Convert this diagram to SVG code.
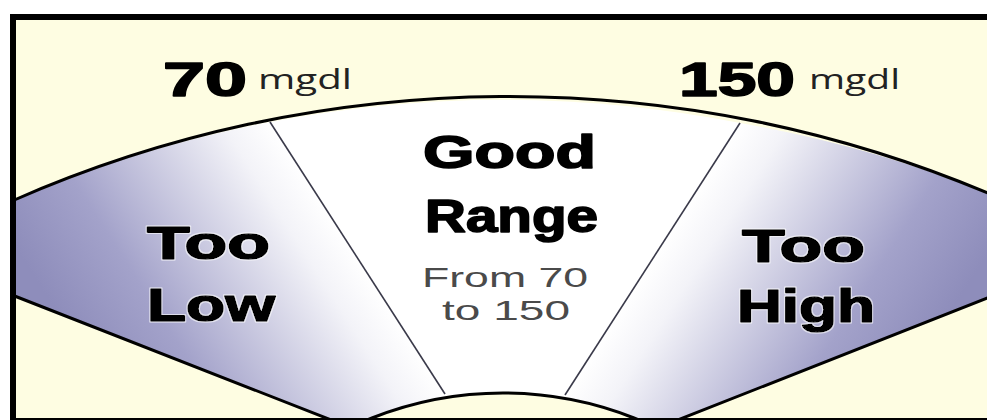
<svg xmlns="http://www.w3.org/2000/svg" width="987" height="420" viewBox="0 0 987 420">
  <style>
    .heavy { font-family: "Liberation Sans", Arial, sans-serif; font-weight: bold; fill: #000; stroke: #000; stroke-width: 1.6; stroke-linejoin: round; }
    .unit { font-family: "Open Sans", "Liberation Sans", sans-serif; font-size: 28px; fill: #222; }
    .sub { font-family: "Liberation Sans", Arial, sans-serif; font-size: 28px; fill: #4a4a4a; }
    .edge { fill: none; stroke: #000; stroke-width: 3; stroke-linecap: butt; }
    .divider { fill: none; stroke: #3a3a4a; stroke-width: 1.6; }
  </style>
  <defs>
    <linearGradient id="gLeft" gradientUnits="userSpaceOnUse" x1="360" y1="260" x2="122" y2="413">
      <stop offset="0" stop-color="#ffffff"/>
      <stop offset="0.15" stop-color="#f3f3f8"/>
      <stop offset="0.7" stop-color="#a3a2ca"/>
      <stop offset="1" stop-color="#8e8dbb"/>
    </linearGradient>
    <linearGradient id="gRight" gradientUnits="userSpaceOnUse" x1="650" y1="263" x2="885" y2="414">
      <stop offset="0" stop-color="#ffffff"/>
      <stop offset="0.15" stop-color="#f3f3f8"/>
      <stop offset="0.7" stop-color="#a3a2ca"/>
      <stop offset="1" stop-color="#8e8dbb"/>
    </linearGradient>
    <filter id="halo" x="-10%" y="-20%" width="120%" height="140%">
      <feMorphology in="SourceAlpha" operator="dilate" radius="1" result="d"/>
      <feFlood flood-color="#ffffff" flood-opacity="0.6"/>
      <feComposite in2="d" operator="in" result="w"/>
      <feMerge><feMergeNode in="w"/><feMergeNode in="SourceGraphic"/></feMerge>
    </filter>
  </defs>

  <!-- background -->
  <rect x="0" y="0" width="987" height="420" fill="#ffffff"/>
  <rect x="10" y="14" width="977" height="406" fill="#fefde2"/>

  <!-- Too Low wedge -->
  <g id="too-low">
    <path d="M 12 201 A 1234 1234 0 0 1 270 122 L 505 488 L 12 295 Z" fill="url(#gLeft)"/>
    <text class="heavy" x="147" y="259" font-size="46" textLength="123" lengthAdjust="spacingAndGlyphs" filter="url(#halo)">Too</text>
    <text class="heavy" x="147" y="321" font-size="46" textLength="128" lengthAdjust="spacingAndGlyphs" filter="url(#halo)">Low</text>
  </g>

  <!-- Good Range wedge -->
  <g id="good-range">
    <path d="M 270 122 A 1234 1234 0 0 1 740 123 L 505 488 Z" fill="#ffffff"/>
    <text class="heavy" x="423" y="168" font-size="46" textLength="173" lengthAdjust="spacingAndGlyphs">Good</text>
    <text class="heavy" x="425" y="232" font-size="46" textLength="173" lengthAdjust="spacingAndGlyphs">Range</text>
    <text class="sub" x="422" y="287" textLength="166" lengthAdjust="spacingAndGlyphs">From 70</text>
    <text class="sub" x="442" y="320" textLength="128" lengthAdjust="spacingAndGlyphs">to 150</text>
  </g>

  <!-- Too High wedge -->
  <g id="too-high">
    <path d="M 740 123 A 1234 1234 0 0 1 990 194 L 990 297 L 505 488 Z" fill="url(#gRight)"/>
    <text class="heavy" x="742" y="262" font-size="46" textLength="123" lengthAdjust="spacingAndGlyphs" filter="url(#halo)">Too</text>
    <text class="heavy" x="737" y="322" font-size="46" textLength="138" lengthAdjust="spacingAndGlyphs" filter="url(#halo)">High</text>
  </g>

  <!-- inner hub -->
  <g id="hub">
    <circle cx="503" cy="749" r="356" fill="#fefde2" stroke="#000" stroke-width="3"/>
  </g>

  <!-- connectors / outlines -->
  <g id="connectors">
    <path class="edge" d="M 12 201 A 1234 1234 0 0 1 990 194"/>
    <path class="edge" d="M 12 295 L 505 488 L 990 297"/>
    <line class="divider" x1="270" y1="122" x2="445" y2="394"/>
    <line class="divider" x1="740" y1="123" x2="565" y2="395"/>
  </g>

  <!-- scale labels -->
  <g id="label-70">
    <text class="heavy" x="163" y="96" font-size="48" textLength="84" lengthAdjust="spacingAndGlyphs">70</text>
    <text class="unit" x="258" y="89" textLength="94" lengthAdjust="spacingAndGlyphs">mgdl</text>
  </g>
  <g id="label-150">
    <text class="heavy" x="679" y="96" font-size="48" textLength="116" lengthAdjust="spacingAndGlyphs">150</text>
    <text class="unit" x="809" y="89" textLength="91" lengthAdjust="spacingAndGlyphs">mgdl</text>
  </g>

  <!-- frame -->
  <g id="frame" fill="none" stroke="#000">
    <path d="M 13 420 L 13 17 L 987 17" stroke-width="6"/>
    <line x1="10" y1="419" x2="987" y2="419" stroke-width="2"/>
  </g>
</svg>
